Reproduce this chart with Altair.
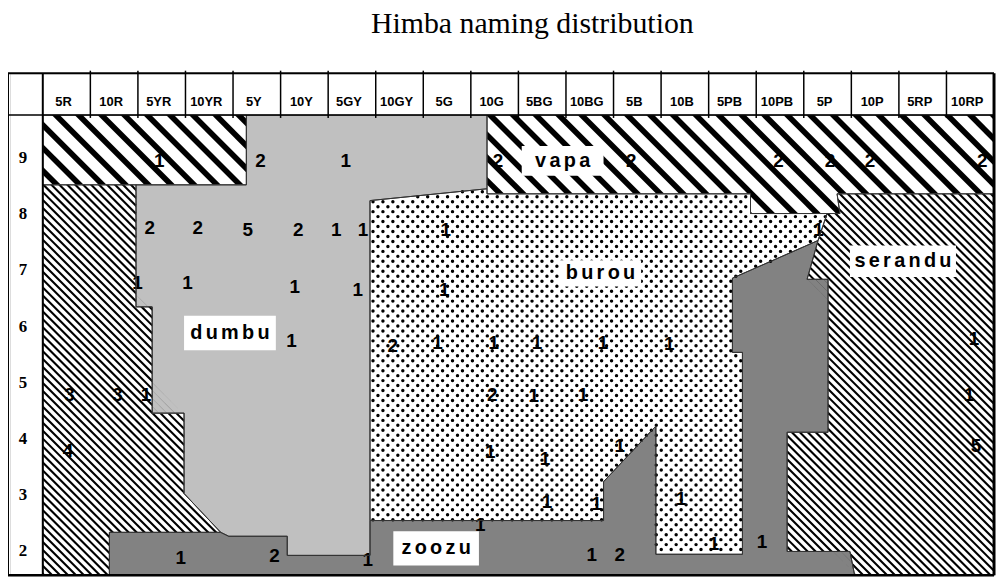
import altair as alt
import pandas as pd
import numpy as np

TITLE = "Himba naming distribution"
hues = ["5R", "10R", "5YR", "10YR", "5Y", "10Y", "5GY", "10GY", "5G", "10G",
        "5BG", "10BG", "5B", "10B", "5PB", "10PB", "5P", "10P", "5RP", "10RP"]
rows = [9, 8, 7, 6, 5, 4, 3, 2]

# Region outlines as (hue position in columns from the left edge of 5R, Munsell value)
vapa_left = [(0, 9.76), (4.28, 9.76), (4.28, 8.52), (0, 8.52)]
vapa_right = [(9.34, 9.76), (20, 9.76), (20, 8.36), (16.70, 8.36), (16.76, 8.01),
              (14.88, 8.01), (14.88, 8.36), (9.34, 8.36)]
dumbu = [(4.28, 9.76), (9.34, 9.76), (9.34, 8.45), (6.88, 8.24), (6.88, 1.93), (5.14, 1.93),
         (5.14, 2.27), (3.91, 2.27), (3.74, 2.34), (2.97, 3.03), (2.97, 4.46), (2.30, 4.46),
         (2.30, 6.35), (1.96, 6.35), (1.96, 8.52), (4.28, 8.52)]
serandu_left = [(0, 8.52), (1.96, 8.52), (1.96, 6.35), (2.30, 6.35), (2.30, 4.46), (2.97, 4.46),
                (2.97, 3.03), (3.74, 2.34), (1.40, 2.34), (1.40, 1.576), (0, 1.576)]
serandu_right = [(16.70, 8.36), (20, 8.36), (20, 1.576), (17.07, 1.576), (16.97, 2.00),
                 (15.65, 2.00), (15.65, 4.12), (16.51, 4.12), (16.51, 6.84), (16.07, 6.84),
                 (16.30, 7.53), (16.49, 8.01), (16.76, 8.01)]
burou = [(6.88, 8.24), (9.34, 8.45), (9.34, 8.36), (14.88, 8.36), (14.88, 8.01), (16.49, 8.01),
         (16.30, 7.53), (14.50, 6.86), (14.50, 5.54), (14.71, 5.54), (14.71, 1.95), (12.89, 1.95),
         (12.89, 4.23), (11.79, 3.24), (11.79, 2.55), (6.88, 2.55)]
zoozu = [(1.40, 1.576), (1.40, 2.34), (3.74, 2.34), (3.91, 2.27), (5.14, 2.27), (5.14, 1.93),
         (6.88, 1.93), (6.88, 2.55), (11.79, 2.55), (11.79, 3.24), (12.89, 4.23), (12.89, 1.95),
         (14.71, 1.95), (14.71, 5.54), (14.50, 5.54), (14.50, 6.86), (16.30, 7.53), (16.07, 6.84),
         (16.51, 6.84), (16.51, 4.12), (15.65, 4.12), (15.65, 2.00), (16.97, 2.00), (17.07, 1.576)]

# Naming counts: hue position, value, count
num_u = [2.45, 4.58, 6.37, 9.57, 12.37, 15.47, 16.55, 17.39, 19.75,
         2.25, 3.26, 4.31, 5.37, 6.17, 6.73, 8.47, 16.31,
         1.99, 3.04, 5.30, 6.62, 8.44,
         5.23, 7.36, 8.30, 9.48, 10.39, 11.78, 13.17, 19.58,
         0.56, 1.57, 2.17, 9.45, 10.32, 11.36, 19.48,
         0.53, 9.41, 10.56, 12.13, 19.62,
         10.60, 11.64, 13.42,
         2.90, 4.87, 6.83, 9.20, 11.54, 12.13, 14.11, 15.12]
num_v = [8.95, 8.95, 8.95, 8.95, 8.95, 8.95, 8.95, 8.95, 8.95,
         7.75, 7.75, 7.72, 7.72, 7.72, 7.72, 7.71, 7.71,
         6.77, 6.77, 6.71, 6.65, 6.65,
         5.74, 5.65, 5.71, 5.71, 5.71, 5.71, 5.68, 5.77,
         4.79, 4.79, 4.79, 4.79, 4.76, 4.79, 4.79,
         3.79, 3.76, 3.64, 3.88, 3.88,
         2.88, 2.85, 2.94,
         1.88, 1.91, 1.85, 2.47, 1.93, 1.93, 2.14, 2.17]
num_txt = ["1", "2", "1", "2", "2", "2", "2", "2", "2",
           "2", "2", "5", "2", "1", "1", "1", "1",
           "1", "1", "1", "1", "1",
           "1", "2", "1", "1", "1", "1", "1", "1",
           "3", "3", "1", "2", "1", "1", "1",
           "4", "1", "1", "1", "5",
           "1", "1", "1",
           "1", "2", "1", "1", "1", "2", "1", "1"]

# Region name labels with their white boxes
lab_names = ["vapa", "burou", "serandu", "dumbu", "zoozu"]
lab_u1 = [10.07, 10.87, 16.97, 2.97, 7.37]
lab_u2 = [11.79, 12.58, 19.20, 4.90, 9.17]
lab_v1 = [8.68, 6.71, 6.88, 5.58, 1.75]
lab_v2 = [9.21, 7.18, 7.44, 6.19, 2.36]

# ---- layout of the plot frame ----
X0, X1 = -0.6897, 20.0
Y0, Y1 = 1.576, 10.503
W, H = 990, 505
SX = W / (X1 - X0)
SY = H / (Y1 - Y0)
xs = alt.Scale(domain=[X0, X1], nice=False, zero=False)
ys = alt.Scale(domain=[Y0, Y1], nice=False, zero=False)
XE = alt.X("u:Q", scale=xs, axis=None)
YE = alt.Y("v:Q", scale=ys, axis=None)


def poly_df(polys):
    rec = []
    for pid, pts in enumerate(polys):
        closed = list(pts) + [pts[0]]
        for i, (u, v) in enumerate(closed):
            rec.append({"pid": pid, "i": i, "u": u, "v": v})
    return pd.DataFrame(rec)


def poly_layer(df, **mark):
    return alt.Chart(df).mark_line(**mark).encode(x=XE, y=YE, order="i:Q", detail="pid:N")


def clip_half(poly, a, b, c):
    out = []
    n = len(poly)
    for k in range(n):
        P = poly[k]
        Q = poly[(k + 1) % n]
        fp = a * P[0] + b * P[1] - c
        fq = a * Q[0] + b * Q[1] - c
        if fp <= 0:
            out.append(P)
        if fp * fq < 0:
            t = fp / (fp - fq)
            out.append((P[0] + t * (Q[0] - P[0]), P[1] + t * (Q[1] - P[1])))
    return out


def hatch(polys, period, width):
    stripes = []
    for pts in polys:
        pix = [((u - X0) * SX, (Y1 - v) * SY) for u, v in pts]
        cs = [X - Y for X, Y in pix]
        c = np.floor(min(cs) / period) * period
        while c < max(cs):
            piece = clip_half(pix, 1, -1, c + width)
            piece = clip_half(piece, -1, 1, -c) if piece else piece
            if len(piece) >= 3:
                stripes.append([(X / SX + X0, Y1 - Y / SY) for X, Y in piece])
            c += period
    return stripes


def inside(pt, pts):
    x, y = pt
    res = False
    n = len(pts)
    for k in range(n):
        x1, y1 = pts[k]
        x2, y2 = pts[(k + 1) % n]
        if (y1 > y) != (y2 > y):
            xi = x1 + (y - y1) * (x2 - x1) / (y2 - y1)
            if x < xi:
                res = not res
    return res


def dots(pts, step=10.0):
    us = [p[0] for p in pts]
    vs = [p[1] for p in pts]
    Xa, Xb = (min(us) - X0) * SX, (max(us) - X0) * SX
    Ya, Yb = (Y1 - max(vs)) * SY, (Y1 - min(vs)) * SY
    rec = []
    j = 0
    Y = Ya + 3
    while Y < Yb:
        X = Xa + 3 + (j % 2) * step / 2
        while X < Xb:
            u, v = X / SX + X0, Y1 - Y / SY
            if inside((u, v), pts):
                rec.append({"u": u, "v": v})
            X += step
        Y += step / 2
        j += 1
    return pd.DataFrame(rec)


# ---- layers ----
fill_dumbu = poly_layer(poly_df([dumbu]), fill="#c0c0c0", strokeOpacity=0)
fill_zoozu = poly_layer(poly_df([zoozu]), fill="#828282", strokeOpacity=0)

nums = pd.DataFrame({"u": num_u, "v": num_v, "t": num_txt})
num_layer = alt.Chart(nums).mark_text(
    font="Liberation Sans", fontSize=19, fontWeight="bold", color="black",
    baseline="middle", align="center").encode(x=XE, y=YE, text="t:N")

vapa_hatch = poly_layer(poly_df(hatch([vapa_left, vapa_right], 23, 8)),
                        fill="black", strokeOpacity=0)
ser_hatch = poly_layer(poly_df(hatch([serandu_left, serandu_right], 8, 3.0)),
                       fill="black", strokeOpacity=0)
dot_layer = alt.Chart(dots(burou)).mark_circle(size=12, color="black", opacity=1).encode(x=XE, y=YE)

outlines = poly_layer(poly_df([vapa_left, vapa_right, dumbu, serandu_left, serandu_right, burou, zoozu]),
                      stroke="#333333", strokeWidth=1)

labs = pd.DataFrame({"name": ["\u2006".join(n) for n in lab_names],
                     "u1": lab_u1, "u2": lab_u2, "v1": lab_v1, "v2": lab_v2})
labs["u"] = (labs.u1 + labs.u2) / 2
labs["v"] = (labs.v1 + labs.v2) / 2
box_layer = alt.Chart(labs).mark_rect(color="white").encode(
    x=alt.X("u1:Q", scale=xs, axis=None), x2="u2:Q",
    y=alt.Y("v1:Q", scale=ys, axis=None), y2="v2:Q")
lab_layer = alt.Chart(labs).mark_text(
    font="Liberation Sans", fontSize=20, fontWeight="bold", color="black",
    baseline="middle", align="center").encode(x=XE, y=YE, text="name:N")

# table frame
left_edge = -35 / SX
seg = [
    (left_edge, Y1, 20, Y1, 2),
    (left_edge, 9.76, 20, 9.76, 1.5),
    (left_edge, Y0, left_edge, Y1, 2),
    (0, Y0, 0, Y1, 2),
    (20, Y0, 20, Y1, 3),
    (left_edge, Y0, 20, Y0, 2.5),
]
for k in range(1, len(hues)):
    seg.append((k, 9.71, k, 10.55, 1.5))
segs = pd.DataFrame(seg, columns=["u", "v", "u2", "v2", "w"])
frame = alt.Chart(segs).mark_rule(color="black", strokeCap="butt").encode(
    x=XE, x2="u2:Q", y=YE, y2="v2:Q", strokeWidth=alt.StrokeWidth("w:Q", scale=None))

head = pd.DataFrame({"u": [k + 0.5 for k in range(len(hues))], "v": [10.0] * len(hues), "t": hues})
head_layer = alt.Chart(head).mark_text(
    font="Liberation Sans", fontSize=13, fontWeight="bold", color="black",
    baseline="middle", align="center", dx=-3).encode(x=XE, y=YE, text="t:N")

rowlab = pd.DataFrame({"u": [-20 / SX] * len(rows), "v": rows, "t": [str(r) for r in rows]})
row_layer = alt.Chart(rowlab).mark_text(
    font="Liberation Serif", fontSize=17, fontWeight="bold", color="black",
    baseline="middle", align="center").encode(x=XE, y=YE, text="t:N")

title_df = pd.DataFrame({"u": [(535.5 - 43) / SX], "v": [Y1 + (72 - 31) / SY], "t": [TITLE]})
title_layer = alt.Chart(title_df).mark_text(
    font="Liberation Serif", fontSize=30, color="black",
    baseline="alphabetic", align="center").encode(x=XE, y=YE, text="t:N")

chart = alt.layer(
    fill_dumbu, fill_zoozu, ser_hatch, num_layer, vapa_hatch, dot_layer, outlines,
    box_layer, lab_layer, frame, head_layer, row_layer, title_layer
).properties(
    width=W, height=H,
    autosize=alt.AutoSizeParams(type="none"),
    padding={"left": 2, "top": 64, "right": 4, "bottom": 4},
).configure_view(strokeWidth=0).configure(background="white")

chart.save("out.html", embed_options={"renderer": "svg", "actions": False})
